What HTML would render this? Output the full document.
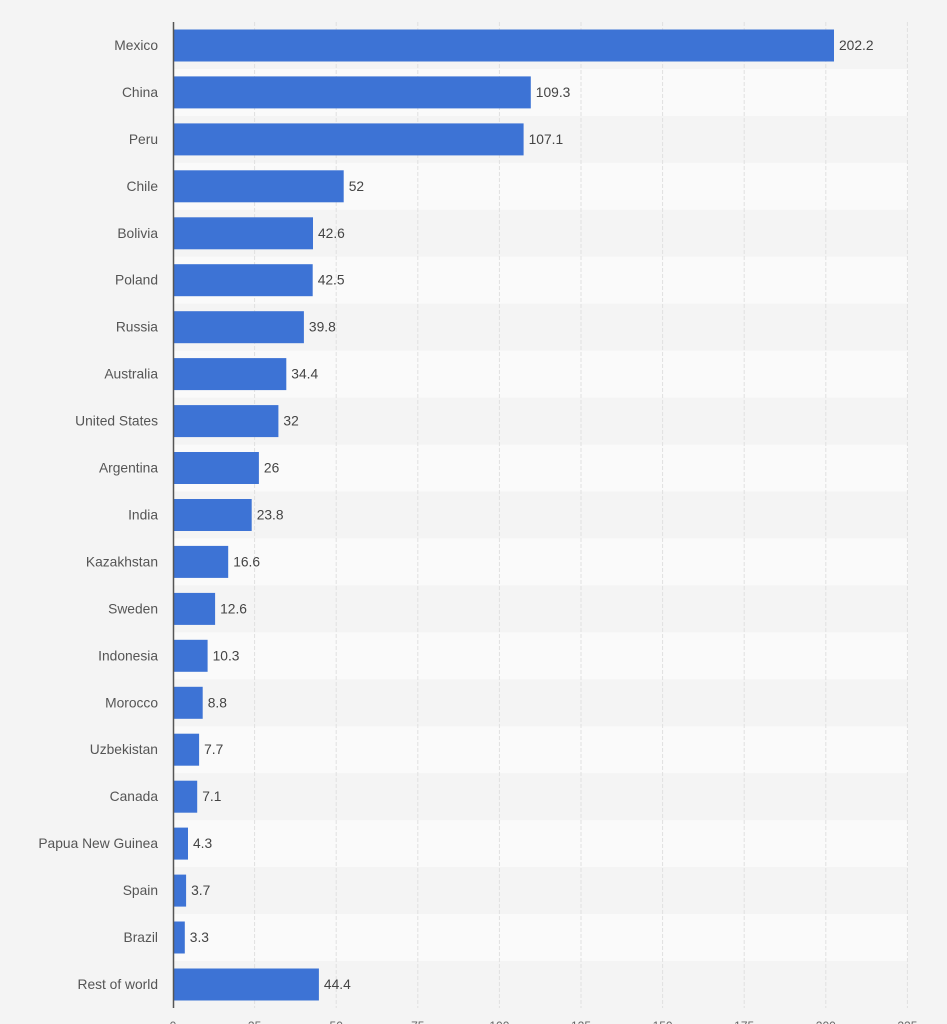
<!DOCTYPE html>
<html><head><style>
html,body{margin:0;padding:0;background:#f4f4f4;}
svg{display:block;font-family:"Liberation Sans",sans-serif;}
</style></head><body>
<svg width="947" height="1024" xmlns="http://www.w3.org/2000/svg">
<rect width="947" height="1024" fill="#f4f4f4"/>
<g fill="#fafafa">
<rect x="173" y="68.95" width="735" height="46.95"/>
<rect x="173" y="162.85" width="735" height="46.95"/>
<rect x="173" y="256.75" width="735" height="46.95"/>
<rect x="173" y="350.65" width="735" height="46.95"/>
<rect x="173" y="444.55" width="735" height="46.95"/>
<rect x="173" y="538.45" width="735" height="46.95"/>
<rect x="173" y="632.35" width="735" height="46.95"/>
<rect x="173" y="726.25" width="735" height="46.95"/>
<rect x="173" y="820.15" width="735" height="46.95"/>
<rect x="173" y="914.05" width="735" height="46.95"/>
</g>
<g stroke="#e0e0e0" stroke-dasharray="4,2" stroke-width="1">
<line x1="254.6" y1="22" x2="254.6" y2="1008"/>
<line x1="336.2" y1="22" x2="336.2" y2="1008"/>
<line x1="417.8" y1="22" x2="417.8" y2="1008"/>
<line x1="499.4" y1="22" x2="499.4" y2="1008"/>
<line x1="581" y1="22" x2="581" y2="1008"/>
<line x1="662.6" y1="22" x2="662.6" y2="1008"/>
<line x1="744.2" y1="22" x2="744.2" y2="1008"/>
<line x1="825.8" y1="22" x2="825.8" y2="1008"/>
<line x1="907.4" y1="22" x2="907.4" y2="1008"/>
</g>
<g font-size="12" fill="#666" text-anchor="middle">
<text x="173" y="1030">0</text><text x="254.6" y="1030">25</text><text x="336.2" y="1030">50</text>
<text x="417.8" y="1030">75</text><text x="499.4" y="1030">100</text><text x="581" y="1030">125</text>
<text x="662.6" y="1030">150</text><text x="744.2" y="1030">175</text><text x="825.8" y="1030">200</text><text x="907.4" y="1030">225</text>
</g>
<g fill="#3d73d5">
<rect x="174" y="29.5" width="660" height="32"/>
<rect x="174" y="76.4" width="356.8" height="32"/>
<rect x="174" y="123.4" width="349.6" height="32"/>
<rect x="174" y="170.3" width="169.7" height="32"/>
<rect x="174" y="217.3" width="139" height="32"/>
<rect x="174" y="264.2" width="138.7" height="32"/>
<rect x="174" y="311.2" width="129.9" height="32"/>
<rect x="174" y="358.1" width="112.3" height="32"/>
<rect x="174" y="405.1" width="104.4" height="32"/>
<rect x="174" y="452" width="84.9" height="32"/>
<rect x="174" y="499" width="77.7" height="32"/>
<rect x="174" y="545.9" width="54.2" height="32"/>
<rect x="174" y="592.9" width="41.1" height="32"/>
<rect x="174" y="639.8" width="33.6" height="32"/>
<rect x="174" y="686.8" width="28.7" height="32"/>
<rect x="174" y="733.7" width="25.1" height="32"/>
<rect x="174" y="780.7" width="23.2" height="32"/>
<rect x="174" y="827.6" width="14" height="32"/>
<rect x="174" y="874.6" width="12.1" height="32"/>
<rect x="174" y="921.5" width="10.8" height="32"/>
<rect x="174" y="968.5" width="144.9" height="32"/>
</g>
<g font-size="13.8" fill="#555" text-anchor="end">
<text x="158" y="50">Mexico</text>
<text x="158" y="96.9">China</text>
<text x="158" y="143.9">Peru</text>
<text x="158" y="190.8">Chile</text>
<text x="158" y="237.8">Bolivia</text>
<text x="158" y="284.7">Poland</text>
<text x="158" y="331.7">Russia</text>
<text x="158" y="378.6">Australia</text>
<text x="158" y="425.6">United States</text>
<text x="158" y="472.5">Argentina</text>
<text x="158" y="519.5">India</text>
<text x="158" y="566.4">Kazakhstan</text>
<text x="158" y="613.4">Sweden</text>
<text x="158" y="660.3">Indonesia</text>
<text x="158" y="707.3">Morocco</text>
<text x="158" y="754.2">Uzbekistan</text>
<text x="158" y="801.2">Canada</text>
<text x="158" y="848.1">Papua New Guinea</text>
<text x="158" y="895.1">Spain</text>
<text x="158" y="942">Brazil</text>
<text x="158" y="989">Rest of world</text>
</g>
<g font-size="13.8" fill="#444">
<text x="839" y="50">202.2</text>
<text x="535.8" y="96.9">109.3</text>
<text x="528.6" y="143.9">107.1</text>
<text x="348.7" y="190.8">52</text>
<text x="318" y="237.8">42.6</text>
<text x="317.7" y="284.7">42.5</text>
<text x="308.9" y="331.7">39.8</text>
<text x="291.3" y="378.6">34.4</text>
<text x="283.4" y="425.6">32</text>
<text x="263.9" y="472.5">26</text>
<text x="256.7" y="519.5">23.8</text>
<text x="233.2" y="566.4">16.6</text>
<text x="220.1" y="613.4">12.6</text>
<text x="212.6" y="660.3">10.3</text>
<text x="207.7" y="707.3">8.8</text>
<text x="204.1" y="754.2">7.7</text>
<text x="202.2" y="801.2">7.1</text>
<text x="193" y="848.1">4.3</text>
<text x="191.1" y="895.1">3.7</text>
<text x="189.8" y="942">3.3</text>
<text x="323.9" y="989">44.4</text>
</g>
<line x1="173.5" y1="22" x2="173.5" y2="1008" stroke="#555" stroke-width="1.5"/>
</svg>
</body></html>
